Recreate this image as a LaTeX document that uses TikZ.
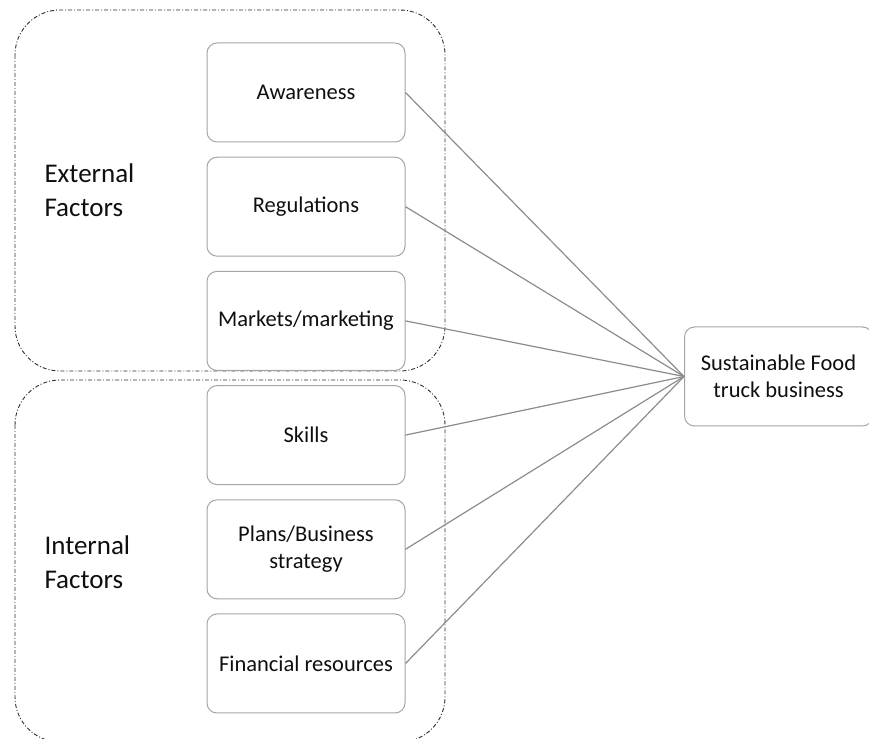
\documentclass[tikz,border=0pt]{standalone}
\usepackage{fontspec}
\setmainfont{Carlito}
\usetikzlibrary{positioning}
\definecolor{BoxGray}{RGB}{165,165,165}
\definecolor{LineGray}{RGB}{140,140,140}
\definecolor{GroupGray}{RGB}{45,45,45}
\definecolor{TextGray}{RGB}{15,15,15}
\newcommand\FactorGroup[4]{%
    \draw[color=GroupGray,line width=0.9pt,rounded corners=45pt,
        dash pattern=on 4pt off 2pt on 1pt off 2pt] (#1) rectangle (#2);
    \node[anchor=west,align=left,text=TextGray,
        font=\fontsize{27}{34}\selectfont] at (#3) {#4};
}
\tikzset{
    factor/.style={draw=BoxGray,line width=1pt,rounded corners=10pt,
        minimum width=198pt,minimum height=99pt,align=center,text=TextGray,
        font=\fontsize{22.5}{27.5}\selectfont},
    link/.style={draw=LineGray,line width=1.2pt},
}

\begin{document}
\begin{tikzpicture}[x=1pt,y=1pt,node distance=14.2pt]
    \useasboundingbox (0,0) rectangle (869,738);
    \FactorGroup{15,728}{445,367}{41,548}{External\\Factors}
    \FactorGroup{15,358}{445,-4}{41,176}{Internal\\Factors}
    \node[factor] (Awareness) at (306,645.5) {Awareness};
    \node[factor,below=of Awareness] (Regulations) {Regulations};
    \node[factor,below=of Regulations] (Markets) {Markets/marketing};
    \node[factor,below=of Markets] (Skills) {Skills};
    \node[factor,below=of Skills] (Plans) {Plans/Business\\strategy};
    \node[factor,below=of Plans] (Finance) {Financial resources};
    \node[factor,minimum width=188pt,anchor=west] (Business) at (684,361.5)
        {Sustainable Food\\truck business};
    \foreach \f in {Awareness,Regulations,Markets,Skills,Plans,Finance}
        \draw[link] (\f.east) -- (Business.west);
\end{tikzpicture}
\end{document}
